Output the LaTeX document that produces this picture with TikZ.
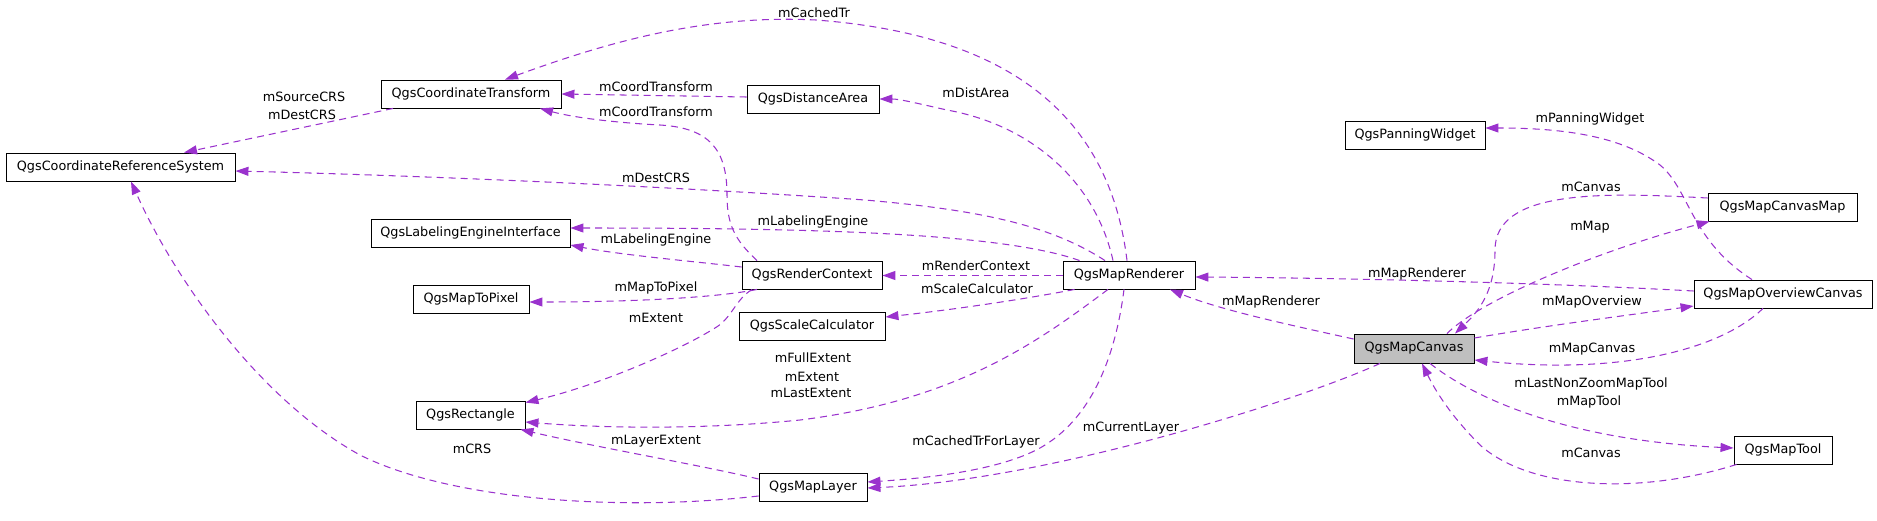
\documentclass[tikz,border=0pt]{standalone}
\usepackage{fontspec}
\setmainfont{DejaVu Sans}
\usetikzlibrary{arrows.meta}
\definecolor{edgec}{HTML}{9A32CD}
\definecolor{curfill}{HTML}{BFBFBF}
\begin{document}
\begin{tikzpicture}[x=1pt,y=-1pt,
  cls/.style={draw=black, line width=0.9pt, fill=white, minimum height=28pt, inner sep=0pt,
    font=\fontsize{12.8pt}{15pt}\selectfont},
  rel/.style={draw=edgec, line width=1.05pt, dash pattern=on 7pt off 5pt,
    -{Triangle[length=13pt,width=9pt]}},
  lbl/.style={font=\fontsize{12.8pt}{15pt}\selectfont, inner sep=0pt, anchor=center}]
\useasboundingbox (0,0) rectangle (1877,520);

% nodes
\node[cls, minimum width=180pt] (CT)  at (471,94)    {QgsCoordinateTransform};
\node[cls, minimum width=229pt] (CRS) at (120.5,167) {QgsCoordinateReferenceSystem};
\node[cls, minimum width=199pt] (LEI) at (470.5,233) {QgsLabelingEngineInterface};
\node[cls, minimum width=116pt] (MTP) at (471,299)   {QgsMapToPixel};
\node[cls, minimum width=109pt] (Rect) at (470.5,415) {QgsRectangle};
\node[cls, minimum width=132pt] (DA)  at (813,99)    {QgsDistanceArea};
\node[cls, minimum width=140pt] (RC)  at (812,275)   {QgsRenderContext};
\node[cls, minimum width=146pt] (SC)  at (812,326)   {QgsScaleCalculator};
\node[cls, minimum width=108pt] (ML)  at (813,487)   {QgsMapLayer};
\node[cls, minimum width=132pt] (MR)  at (1129,275)  {QgsMapRenderer};
\node[cls, minimum width=140pt] (PW)  at (1415,135)  {QgsPanningWidget};
\node[cls, minimum width=149pt] (MCM) at (1782.5,207) {QgsMapCanvasMap};
\node[cls, minimum width=178pt] (MOC) at (1783,294)  {QgsMapOverviewCanvas};
\node[cls, minimum width=120pt, minimum height=29pt, fill=curfill] (MC) at (1414,348.5) {QgsMapCanvas};
\node[cls, minimum width=98pt]  (MT)  at (1783,450)  {QgsMapTool};

% edges
\draw[rel] ([xshift=-78pt]CT.south) -- ([xshift=63.5pt]CRS.north);
\draw[rel] ([yshift=2pt]DA.west) -- (CT.east);
\draw[rel] ([xshift=-55pt]RC.north) .. controls (735,240) and (727,225) .. (727,195)
  .. controls (727,150) and (710,128) .. (660,125)
  .. controls (620,123) and (575,118) .. ([xshift=69pt]CT.south);
\draw[rel] ([xshift=-2pt]MR.north) .. controls (1110,120) and (1015,35) .. (816,20)
  .. controls (700,14) and (600,45) .. ([xshift=34pt]CT.north);
\draw[rel] ([xshift=-16pt]MR.north) .. controls (1095,180) and (1030,125) .. (947,110)
  .. controls (920,104) and (900,99) .. (DA.east);
\draw[rel] ([xshift=-24pt]MR.north) .. controls (1050,225) and (980,210) .. (865,200)
  .. controls (650,185) and (400,175) .. ([yshift=-4pt]CRS.east);
\draw[rel] ([xshift=17pt]MR.north west) .. controls (1000,232) and (800,228) .. ([yshift=5pt]LEI.east);
\draw[rel] ([yshift=8pt]RC.west) .. controls (700,262) and (620,255) .. ([yshift=-12pt]LEI.east);
\draw[rel] ([xshift=-55pt]RC.south) .. controls (720,297) and (640,302) .. ([yshift=-3pt]MTP.east);
\draw[rel] ([xshift=-60pt]RC.south) .. controls (735,300) and (732,318) .. (715,328)
  .. controls (680,350) and (600,385) .. ([yshift=-2pt]Rect.north east);
\draw[rel] ([yshift=-0.5pt]MR.west) -- ([yshift=-0.5pt]RC.east);
\draw[rel] ([xshift=12pt]MR.south west) .. controls (1020,300) and (950,310) .. ([yshift=9pt]SC.east);
\draw[rel] ([xshift=-21pt]MR.south) .. controls (1040,340) and (960,400) .. (800,420)
  .. controls (700,430) and (600,428) .. ([yshift=-7pt]Rect.east);
\draw[rel] ([xshift=-5pt]MR.south) .. controls (1115,360) and (1090,420) .. (1040,448)
  .. controls (1000,470) and (930,478) .. ([yshift=5pt]ML.east);
\draw[rel] ([yshift=8pt]ML.west) .. controls (700,465) and (600,448) .. ([xshift=-5pt]Rect.south east);
\draw[rel] ([yshift=-9pt]ML.west) .. controls (620,512) and (450,500) .. (360,455)
  .. controls (260,400) and (175,280) .. ([xshift=10.5pt]CRS.south);
\draw[rel] ([yshift=9.5pt]MC.west) .. controls (1290,325) and (1220,310) .. ([xshift=41pt]MR.south);
\draw[rel] ([xshift=-34pt]MC.south) .. controls (1300,400) and (1050,480) .. ([yshift=-1pt]ML.east);
\draw[rel] ([yshift=3pt]MOC.west) .. controls (1550,283) and (1350,278) .. ([yshift=-2pt]MR.east);
\draw[rel] ([yshift=10.5pt]MC.east) .. controls (1550,325) and (1630,315) .. ([yshift=-12pt]MOC.west);
\draw[rel] ([xshift=-20pt]MOC.south) .. controls (1720,350) and (1620,375) .. ([yshift=-11.5pt]MC.east);
\draw[rel] ([xshift=33pt]MC.north) .. controls (1480,300) and (1600,250) .. ([xshift=2pt]MCM.south west);
\draw[rel] ([yshift=9pt]MCM.west) .. controls (1600,192) and (1495,190) .. (1495,250)
  .. controls (1495,290) and (1480,310) .. ([xshift=41pt]MC.north);
\draw[rel] ([xshift=-31pt]MOC.north) .. controls (1690,240) and (1690,190) .. (1660,165)
  .. controls (1620,135) and (1560,128) .. ([yshift=7pt]PW.east);
\draw[rel] ([xshift=16pt]MC.south) .. controls (1470,395) and (1560,440) .. ([yshift=2pt]MT.west);
\draw[rel] ([xshift=3pt]MT.south west) .. controls (1640,495) and (1530,490) .. (1480,445)
  .. controls (1450,415) and (1435,390) .. ([xshift=8pt]MC.south);

% labels
\node[lbl] (l1a) at (304,97)  {mSourceCRS};
\node[lbl] (l1b) at (302,115) {mDestCRS};
\node[lbl] (l2)  at (656,87)  {mCoordTransform};
\node[lbl] (l3)  at (656,112) {mCoordTransform};
\node[lbl] (l4)  at (814,13)  {mCachedTr};
\node[lbl] (l5)  at (976,93)  {mDistArea};
\node[lbl] (l6)  at (656,178) {mDestCRS};
\node[lbl] (l7)  at (813,222) {mLabelingEngine};
\node[lbl] (l8)  at (656,240) {mLabelingEngine};
\node[lbl] (l9)  at (656,288) {mMapToPixel};
\node[lbl] (l10) at (656,318) {mExtent};
\node[lbl] (l11) at (976,266) {mRenderContext};
\node[lbl] (l12) at (977,289) {mScaleCalculator};
\node[lbl] (l13a) at (813,358) {mFullExtent};
\node[lbl] (l13b) at (812,377) {mExtent};
\node[lbl] (l13c) at (811,393) {mLastExtent};
\node[lbl] (l14) at (976,442) {mCachedTrForLayer};
\node[lbl] (l15) at (656,441) {mLayerExtent};
\node[lbl] (l16) at (472,449) {mCRS};
\node[lbl] (l17) at (1271,302) {mMapRenderer};
\node[lbl] (l18) at (1131,428) {mCurrentLayer};
\node[lbl] (l19) at (1417,274) {mMapRenderer};
\node[lbl] (l20) at (1592,302) {mMapOverview};
\node[lbl] (l21) at (1592,349) {mMapCanvas};
\node[lbl] (l22) at (1590,227) {mMap};
\node[lbl] (l23) at (1591,187) {mCanvas};
\node[lbl] (l24) at (1590,119) {mPanningWidget};
\node[lbl] (l25a) at (1591,384) {mLastNonZoomMapTool};
\node[lbl] (l25b) at (1589,402) {mMapTool};
\node[lbl] (l26) at (1591,453) {mCanvas};
\end{tikzpicture}
\end{document}
